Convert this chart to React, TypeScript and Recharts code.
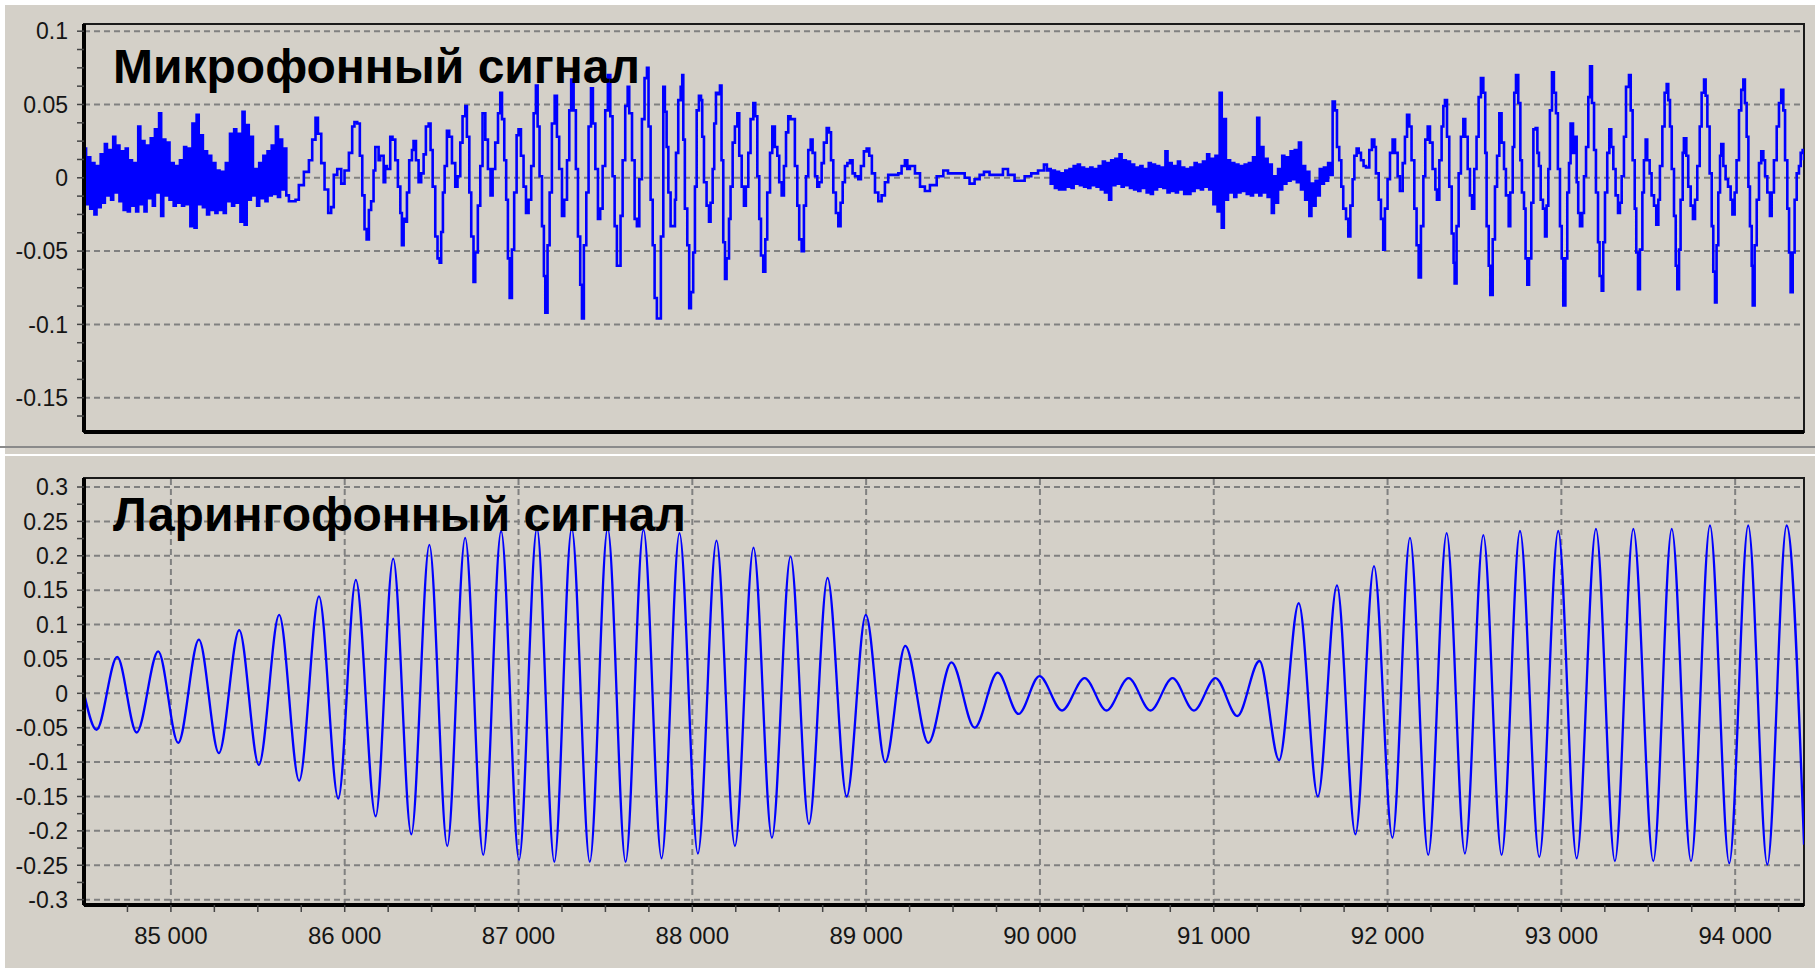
import React from 'react';
import { LineChart, Line, XAxis, YAxis, ReferenceLine, ReferenceArea } from 'recharts';

// ---------- axes ----------
const X_MIN = 84500;
const X_MAX = 94396;
const MIC_Y_DOMAIN: [number, number] = [-0.1734, 0.1049];
const LAR_Y_DOMAIN: [number, number] = [-0.3078, 0.3131];

const micYMajor = [0.1, 0.05, 0, -0.05, -0.1, -0.15];
const larYMajor = [0.3, 0.25, 0.2, 0.15, 0.1, 0.05, 0, -0.05, -0.1, -0.15, -0.2, -0.25, -0.3];
const xMajor = [85000, 86000, 87000, 88000, 89000, 90000, 91000, 92000, 93000, 94000];

const titleMic = 'Микрофонный сигнал';
const titleLar = 'Ларингофонный сигнал';

// ---------- microphone signal ----------
// noisy onset, sampled every 12 samples from 84500
const micNoiseStartT0 = 84500;
const micNoiseStep = 12;
const micNoiseStartValues = [
  0.020, -0.018, 0.014, -0.021, 0.010, -0.025, 0.008, -0.020, 0.016, -0.017,
  0.023, -0.012, 0.019, -0.015, 0.028, -0.010, 0.022, -0.016, 0.018, -0.022,
  0.020, -0.023, 0.012, -0.019, 0.010, -0.023, 0.035, -0.018, 0.025, -0.023,
  0.022, -0.014, 0.027, -0.019, 0.033, -0.010, 0.044, -0.026, 0.026, -0.012,
  0.024, -0.015, 0.010, -0.019, 0.008, -0.017, 0.012, -0.019, 0.021, -0.018,
  0.020, -0.033, 0.037, -0.034, 0.043, -0.018, 0.029, -0.020, 0.018, -0.025,
  0.015, -0.022, 0.010, -0.024, 0.005, -0.022, 0.004, -0.024, 0.010, -0.016,
  0.030, -0.019, 0.033, -0.017, 0.030, -0.030, 0.045, -0.032, 0.036, -0.015,
  0.028, -0.012, 0.006, -0.019, 0.010, -0.014, 0.015, -0.016, 0.018, -0.012,
  0.022, -0.011, 0.035, -0.013, 0.026, -0.008, 0.020, -0.012,
];

const micVoicedA: [number, number][] = [
  [85679, -0.016], [85717, -0.015], [85736, -0.005], [85765, 0.004], [85794, 0.012], [85813, 0.026], [85832, 0.041], [85846, 0.030], [85865, 0.010], [85884, -0.008], [85905, -0.024], [85922, -0.020], [85937, 0.002], [85957, 0.006], [85980, -0.004], [85999, 0.005], [86024, 0.017], [86043, 0.035], [86056, 0.038], [86072, 0.037], [86087, 0.015], [86101, -0.012], [86114, -0.035], [86126, -0.042], [86139, -0.022], [86152, -0.016],
  [86166, 0.005], [86176, 0.021], [86195, 0.012], [86204, 0.015], [86224, -0.003], [86233, 0.008], [86243, 0.006], [86262, 0.028], [86275, 0.026], [86291, 0.012], [86306, -0.006], [86320, -0.024], [86329, -0.046], [86339, -0.028], [86348, -0.030], [86358, -0.010], [86371, 0.012], [86387, 0.019], [86396, 0.025], [86410, 0.012], [86425, -0.003], [86440, 0.003], [86454, 0.016], [86467, 0.035], [86483, 0.037], [86494, 0.019], [86506, -0.006], [86521, -0.040], [86534, -0.055], [86546, -0.058], [86555, -0.037], [86565, -0.010], [86575, 0.008], [86588, 0.032], [86601, 0.028], [86617, 0.010], [86636, -0.006], [86649, 0.001], [86665, 0.024], [86678, 0.042], [86694, 0.049], [86703, 0.028], [86717, -0.010], [86728, -0.040], [86741, -0.071], [86751, -0.051], [86766, -0.019], [86780, 0.008], [86793, 0.044], [86809, 0.026], [86824, 0.006], [86839, -0.012], [86851, 0.006], [86866, 0.024], [86882, 0.044], [86895, 0.058], [86905, 0.040], [86918, 0.012], [86929, -0.015], [86939, -0.055], [86949, -0.082], [86962, -0.049], [86975, -0.010], [86989, 0.029], [87000, 0.033], [87014, 0.015], [87029, -0.006], [87043, -0.024], [87058, -0.015], [87073, 0.008], [87087, 0.044], [87100, 0.063], [87110, 0.035], [87121, 0.001], [87135, -0.033], [87146, -0.067], [87154, -0.092], [87167, -0.046], [87179, -0.010], [87192, 0.037], [87208, 0.056], [87221, 0.028], [87234, 0.006], [87250, -0.026], [87263, -0.015], [87279, 0.012], [87292, 0.046], [87303, 0.067], [87317, 0.046], [87330, 0.006], [87342, -0.040], [87355, -0.073], [87365, -0.096], [87376, -0.046], [87390, -0.010], [87403, 0.035], [87417, 0.061], [87428, 0.037], [87442, 0.006], [87457, -0.028], [87470, -0.021], [87484, 0.008], [87499, 0.046], [87514, 0.070], [87528, 0.042], [87541, 0.001], [87553, -0.033], [87566, -0.060], [87576, -0.060], [87587, -0.026], [87599, 0.012], [87614, 0.049], [87628, 0.062], [87637, 0.044], [87653, 0.012], [87668, -0.028], [87681, -0.033], [87695, -0.001], [87710, 0.040], [87725, 0.068], [87739, 0.075], [87748, 0.035], [87760, -0.015], [87772, -0.046], [87783, -0.082], [87796, -0.096],
  [87819, -0.040], [87833, 0.062], [87842, 0.045], [87852, 0.021], [87862, -0.010], [87875, -0.033], [87890, -0.033], [87900, -0.015], [87906, 0.017], [87919, 0.053], [87933, 0.062], [87942, 0.070], [87948, 0.026], [87957, -0.021], [87971, -0.046], [87982, -0.089], [87992, -0.078], [88005, -0.051], [88015, -0.006], [88025, 0.046], [88038, 0.056], [88050, 0.053], [88057, 0.028], [88067, -0.003], [88082, -0.019], [88096, -0.030], [88105, -0.017], [88117, 0.006], [88126, 0.037], [88136, 0.058], [88149, 0.057], [88159, 0.063], [88168, 0.012], [88178, -0.044], [88188, -0.069], [88197, -0.055], [88211, -0.028], [88220, -0.006], [88232, 0.024], [88245, 0.035], [88259, 0.044], [88270, 0.015], [88284, -0.006], [88297, -0.019], [88308, -0.006], [88322, 0.017], [88335, 0.040], [88351, 0.051], [88362, 0.042], [88374, 0.001], [88385, -0.028], [88395, -0.053], [88408, -0.064], [88420, -0.042], [88431, -0.010], [88447, 0.017], [88460, 0.035], [88475, 0.021], [88489, 0.015], [88500, -0.003], [88514, -0.012], [88527, 0.008], [88539, 0.031], [88552, 0.042], [88565, 0.040], [88581, 0.040], [88590, 0.008], [88604, -0.019], [88615, -0.042], [88629, -0.050], [88642, -0.019], [88654, 0.001], [88667, 0.019], [88681, 0.026], [88692, 0.017], [88706, 0.001], [88719, -0.006], [88730, -0.003], [88744, 0.010], [88757, 0.024], [88773, 0.034], [88786, 0.031], [88798, 0.012], [88811, -0.010], [88826, -0.024], [88840, -0.033], [88853, -0.017], [88865, -0.003], [88878, 0.008], [88892, 0.010], [88907, 0.012], [88922, 0.003], [88936, 0.001], [88955, -0.001], [88970, 0.008], [88987, 0.018], [89003, 0.020], [89018, 0.015], [89033, 0.003], [89051, -0.010], [89070, -0.016], [89089, -0.012], [89108, -0.003], [89127, 0.002], [89156, 0.002], [89185, 0.003], [89204, 0.008], [89223, 0.012], [89237, 0.006], [89252, 0.008], [89281, 0.003], [89310, -0.006], [89338, -0.009], [89367, -0.005], [89406, 0.001], [89444, 0.005],
];

const micQuiet: [number, number][] = [
  [89471, 0.003], [89547, 0.003], [89567, 0.000], [89595, -0.004], [89624, -0.001], [89653, 0.002], [89678, 0.004], [89710, 0.002], [89749, 0.002], [89787, 0.006], [89816, 0.002], [89854, -0.002], [89883, -0.002], [89912, 0.001], [89950, 0.003], [89989, 0.005], [90023, 0.009], [90040, 0.005],
];

// noisy pause, sampled every 12 samples from 90050
const micNoiseMidT0 = 90050;
const micNoiseMidValues = [
  0.006, -0.004, 0.005, -0.007, 0.004, -0.008, 0.003, -0.008, 0.005, -0.006,
  0.006, -0.007, 0.008, -0.004, 0.009, -0.005, 0.007, -0.006, 0.006, -0.007,
  0.007, -0.005, 0.006, -0.006, 0.008, -0.008, 0.011, -0.010, 0.010, -0.015,
  0.012, -0.005, 0.013, -0.004, 0.016, -0.006, 0.012, -0.005, 0.011, -0.007,
  0.009, -0.008, 0.007, -0.009, 0.008, -0.007, 0.006, -0.010, 0.010, -0.011,
  0.009, -0.008, 0.008, -0.006, 0.007, -0.007, 0.018, -0.010, 0.010, -0.009,
  0.008, -0.010, 0.011, -0.008, 0.007, -0.011, 0.006, -0.011, 0.007, -0.009,
  0.010, -0.007, 0.009, -0.008, 0.011, -0.006, 0.016, -0.008, 0.013, -0.018,
  0.015, -0.023, 0.058, -0.034, 0.040, -0.015, 0.012, -0.010, 0.010, -0.013,
  0.009, -0.010, 0.008, -0.009, 0.009, -0.011, 0.010, -0.012, 0.014, -0.010,
  0.041, -0.012, 0.021, -0.010, 0.013, -0.013, 0.009, -0.024, 0.001, -0.017,
  0.006, -0.008, 0.015, -0.004, 0.014, -0.002, 0.018, -0.001, 0.019, -0.003,
  0.024, -0.008, 0.008, -0.015, 0.004, -0.026, -0.004, -0.019, -0.002, -0.012,
  0.006, -0.004, 0.007, -0.002, 0.010, 0.002,
];

const micVoicedB: [number, number][] = [
  [91684, 0.052], [91697, 0.046], [91709, 0.021], [91722, 0.012], [91734, -0.006], [91745, -0.021], [91761, -0.028], [91774, -0.040], [91786, -0.019], [91799, -0.001], [91809, 0.015], [91822, 0.020], [91834, 0.017], [91847, 0.012], [91862, 0.008], [91876, 0.007], [91895, 0.019], [91910, 0.026], [91924, 0.021], [91933, 0.003], [91949, -0.015], [91962, -0.028], [91975, -0.049], [91985, -0.021], [92000, -0.001], [92014, 0.017], [92029, 0.026], [92043, 0.017], [92058, 0.001], [92071, -0.009], [92087, 0.010], [92100, 0.028], [92112, 0.043], [92125, 0.035], [92138, 0.012], [92154, -0.021], [92167, -0.046], [92179, -0.068], [92192, -0.033], [92206, 0.001], [92217, 0.026], [92231, 0.035], [92244, 0.024], [92259, 0.006], [92275, -0.008], [92284, -0.015], [92298, 0.012], [92311, 0.035], [92321, 0.049], [92330, 0.053], [92342, 0.028], [92355, -0.006], [92369, -0.038], [92380, -0.058], [92386, -0.072], [92397, -0.033], [92409, 0.003], [92422, 0.028], [92436, 0.040], [92447, 0.028], [92461, 0.006], [92474, -0.012], [92486, -0.021], [92499, 0.006], [92512, 0.028], [92524, 0.055], [92537, 0.068], [92551, 0.058], [92562, 0.017], [92570, -0.033], [92582, -0.060], [92591, -0.080], [92605, -0.042], [92618, -0.006], [92630, 0.015], [92643, 0.044], [92656, 0.024], [92670, 0.006], [92681, -0.012], [92697, -0.033], [92706, -0.010], [92720, 0.021], [92729, 0.058], [92739, 0.070], [92752, 0.051], [92764, 0.012], [92773, -0.010], [92785, -0.021],
  [92794, -0.055], [92804, -0.073], [92814, -0.055], [92827, -0.017], [92839, 0.033], [92852, 0.034], [92862, 0.017], [92871, 0.008], [92881, -0.015], [92894, -0.021], [92906, -0.040], [92915, -0.019], [92925, 0.006], [92934, 0.046], [92946, 0.072], [92957, 0.058], [92969, 0.044], [92980, 0.006], [92992, -0.033], [93002, -0.055], [93011, -0.087], [93023, -0.055], [93034, -0.010], [93044, 0.010], [93053, 0.037], [93067, 0.017], [93076, 0.028], [93088, -0.003], [93097, -0.024], [93107, -0.033], [93120, -0.024], [93130, 0.001], [93142, 0.021], [93155, 0.055], [93165, 0.076], [93176, 0.051], [93188, 0.019], [93199, -0.010], [93211, -0.044], [93220, -0.067], [93232, -0.077], [93241, -0.044], [93251, -0.010], [93264, 0.017], [93276, 0.033], [93287, 0.021], [93299, 0.006], [93312, -0.012], [93326, -0.024], [93337, -0.017], [93347, 0.001], [93360, 0.028], [93372, 0.062], [93389, 0.070], [93399, 0.046], [93410, 0.012], [93422, -0.021], [93431, -0.051], [93441, -0.076], [93452, -0.049], [93466, -0.010], [93475, 0.012], [93485, 0.026], [93494, 0.012], [93508, 0.003], [93519, -0.012], [93533, -0.019], [93546, -0.032], [93558, -0.015], [93567, 0.008], [93581, 0.035], [93594, 0.058], [93606, 0.064], [93615, 0.053], [93625, 0.035], [93635, 0.006], [93648, -0.026], [93658, -0.060], [93667, -0.076], [93677, -0.049], [93686, -0.015], [93698, 0.017], [93705, 0.027], [93719, 0.015], [93730, -0.006], [93744, -0.019], [93757, -0.028], [93769, -0.015], [93782, 0.008], [93796, 0.035], [93807, 0.058], [93821, 0.067], [93830, 0.056], [93840, 0.035], [93853, 0.003], [93865, -0.033], [93874, -0.064], [93884, -0.085], [93893, -0.046], [93903, -0.010], [93913, 0.015], [93920, 0.023], [93932, 0.008], [93945, -0.001], [93959, -0.006], [93974, -0.015], [93984, -0.025], [93997, -0.010], [94008, 0.012], [94022, 0.046], [94035, 0.060], [94047, 0.067], [94056, 0.051], [94066, 0.028], [94076, -0.006], [94085, -0.033], [94095, -0.060], [94101, -0.087], [94112, -0.046], [94124, -0.015], [94137, 0.010], [94150, 0.018], [94162, 0.012], [94172, 0.001], [94185, -0.010], [94200, -0.026], [94210, -0.010], [94223, 0.012], [94239, 0.035], [94252, 0.051], [94265, 0.060], [94277, 0.046], [94287, 0.012], [94300, -0.021], [94310, -0.051], [94319, -0.078], [94331, -0.051], [94342, -0.015], [94354, 0.003], [94367, 0.008], [94377, 0.017], [94388, 0.019], [94396, 0.012],
];

// ---------- laryngophone signal: successive extremes ----------
const larExtremes: [number, number][] = [
  [84500, 0.000], [84572, -0.053], [84691, 0.053], [84803, -0.057], [84927, 0.061], [85042, -0.072], [85161, 0.078], [85276, -0.087], [85393, 0.092], [85506, -0.104], [85623, 0.114], [85738, -0.127], [85852, 0.141], [85963, -0.153], [86064, 0.165], [86178, -0.179], [86279, 0.196],
  [86383, -0.205], [86487, 0.216], [86590, -0.222], [86693, 0.226], [86797, -0.235], [86900, 0.236], [87003, -0.242], [87106, 0.240], [87206, -0.245], [87306, 0.240], [87410, -0.245], [87513, 0.240], [87616, -0.245], [87719, 0.238], [87823, -0.240], [87926, 0.233], [88032, -0.233], [88139, 0.222], [88245, -0.222], [88352, 0.212], [88458, -0.210], [88565, 0.199], [88671, -0.190], [88778, 0.168], [88888, -0.150], [88998, 0.114], [89110, -0.100], [89225, 0.069], [89358, -0.072], [89491, 0.045], [89624, -0.050], [89757, 0.030], [89877, -0.030], [89997, 0.025], [90127, -0.025], [90257, 0.022], [90383, -0.025], [90510, 0.022], [90636, -0.025], [90763, 0.022], [90886, -0.025], [91010, 0.022], [91136, -0.033], [91263, 0.047], [91376, -0.097], [91489, 0.131], [91599, -0.150], [91709, 0.157], [91815, -0.205], [91922, 0.185], [92028, -0.210],
  [92129, 0.226], [92234, -0.235], [92340, 0.233], [92445, -0.233], [92551, 0.230], [92656, -0.235], [92762, 0.236], [92873, -0.238], [92982, 0.236], [93088, -0.240], [93199, 0.239], [93308, -0.244], [93414, 0.239], [93529, -0.244], [93635, 0.239], [93746, -0.244], [93855, 0.244], [93966, -0.247], [94075, 0.244], [94185, -0.249], [94296, 0.244], [94396, -0.220],
];

// ---------- build tables ----------
const micData = [
  ...micNoiseStartValues.map((v, i) => ({ t: micNoiseStartT0 + i * micNoiseStep, v })),
  ...micVoicedA.map(([t, v]) => ({ t, v })),
  ...micQuiet.map(([t, v]) => ({ t, v })),
  ...micNoiseMidValues.map((v, i) => ({ t: micNoiseMidT0 + i * micNoiseStep, v })),
  ...micVoicedB.map(([t, v]) => ({ t, v })),
].sort((a, b) => a.t - b.t);

const larData = larExtremes.map(([t, v]) => ({ t, v }));

const range = (from: number, to: number, step: number) => {
  const out: number[] = [];
  const n = Math.round((to - from) / step);
  for (let k = 0; k <= n; k++) out.push(Math.round((from + k * step) * 1e6) / 1e6);
  return out;
};
const micYTicks = range(-0.1625, 0.1, 0.0125);
const larYTicks = range(-0.3, 0.3, 0.025);
const xTicks = range(84750, 94250, 250);

// ---------- styling ----------
const BG = '#D4D0C8';
const BLUE = '#0000FF';
const GRID = '#808080';
const FONT = '"Liberation Sans", Arial, sans-serif';

const isMultiple = (v: number, step: number) => Math.abs(v / step - Math.round(v / step)) < 1e-6;
const fmtY = (v: number) => String(Math.round(v * 1000) / 1000);
const fmtX = (v: number) => `${Math.round(v / 1000)} 000`;

const YTick = (props: any) => {
  const { x, y, payload } = props;
  const v = payload.value as number;
  if (!isMultiple(v, 0.05)) return <g />;
  return (
    <text x={x} y={y} dy="0.36em" textAnchor="end" fontFamily={FONT} fontSize={23} fill="#151515">
      {fmtY(v)}
    </text>
  );
};

const XTick = (props: any) => {
  const { x, y, payload } = props;
  const v = payload.value as number;
  if (!isMultiple(v, 1000)) return <g />;
  return (
    <text x={x} y={y + 32} textAnchor="middle" fontFamily={FONT} fontSize={24} fill="#151515">
      {fmtX(v)}
    </text>
  );
};

export default function App() {
  return (
    <div style={{ position: 'absolute', left: 0, top: 0, width: 1815, height: 968, background: BG, overflow: 'hidden' }}>
      {/* microphone panel */}
      <div style={{ position: 'absolute', left: 0, top: 0 }}>
        <LineChart width={1815} height={450} data={micData} margin={{ top: 24, right: 11, bottom: 0, left: 0 }}>
          <XAxis
            dataKey="t"
            type="number"
            domain={[X_MIN, X_MAX]}
            allowDataOverflow
            tick={false}
            tickLine={false}
            height={18}
            axisLine={{ stroke: '#000', strokeWidth: 4 }}
          />
          <YAxis
            type="number"
            domain={MIC_Y_DOMAIN}
            allowDataOverflow
            ticks={micYTicks}
            interval={0}
            width={84}
            tickSize={7}
            tickMargin={9}
            tick={<YTick />}
            tickLine={{ stroke: '#444', strokeWidth: 1.5 }}
            axisLine={{ stroke: '#000', strokeWidth: 4 }}
          />
          {micYMajor.map((v) => (
            <ReferenceLine key={`mg${v}`} y={v} stroke={GRID} strokeWidth={2} strokeDasharray="6 4" />
          ))}
          <Line type="stepAfter" dataKey="v" stroke={BLUE} strokeWidth={2.6} dot={false} isAnimationActive={false} />
          <ReferenceArea x1={X_MIN} x2={X_MAX} y1={MIC_Y_DOMAIN[0]} y2={MIC_Y_DOMAIN[1]} fill="none" stroke="#1a1a1a" strokeWidth={2} />
        </LineChart>
      </div>

      {/* laryngophone panel */}
      <div style={{ position: 'absolute', left: 0, top: 440 }}>
        <LineChart width={1815} height={528} data={larData} margin={{ top: 38, right: 11, bottom: 0, left: 0 }}>
          <XAxis
            dataKey="t"
            type="number"
            domain={[X_MIN, X_MAX]}
            allowDataOverflow
            ticks={xTicks}
            interval={0}
            height={63}
            tickSize={7}
            tickMargin={0}
            tick={<XTick />}
            tickLine={{ stroke: '#444', strokeWidth: 1.5 }}
            axisLine={{ stroke: '#000', strokeWidth: 4 }}
          />
          <YAxis
            type="number"
            domain={LAR_Y_DOMAIN}
            allowDataOverflow
            ticks={larYTicks}
            interval={0}
            width={84}
            tickSize={7}
            tickMargin={9}
            tick={<YTick />}
            tickLine={{ stroke: '#444', strokeWidth: 1.5 }}
            axisLine={{ stroke: '#000', strokeWidth: 4 }}
          />
          {larYMajor.map((v) => (
            <ReferenceLine key={`lg${v}`} y={v} stroke={GRID} strokeWidth={2} strokeDasharray="6 4" />
          ))}
          {xMajor.map((v) => (
            <ReferenceLine key={`lx${v}`} x={v} stroke={GRID} strokeWidth={2} strokeDasharray="6 4" />
          ))}
          <Line type="monotone" dataKey="v" stroke={BLUE} strokeWidth={2.3} dot={false} isAnimationActive={false} />
          <ReferenceArea x1={X_MIN} x2={X_MAX} y1={LAR_Y_DOMAIN[0]} y2={LAR_Y_DOMAIN[1]} fill="none" stroke="#1a1a1a" strokeWidth={2} />
        </LineChart>
      </div>

      {/* window chrome and titles */}
      <svg width={1815} height={968} style={{ position: 'absolute', left: 0, top: 0, pointerEvents: 'none' }}>
        <rect x={0} y={0} width={1815} height={5} fill="#FFFFFF" />
        <rect x={0} y={0} width={5} height={968} fill="#FFFFFF" />
        <rect x={0} y={446} width={1815} height={2} fill="#8A8A8A" />
        <rect x={0} y={454} width={1815} height={2} fill="#FFFFFF" />
        <text x={113} y={83} fontFamily={FONT} fontWeight="bold" fontSize={48} fill="#000">{titleMic}</text>
        <text x={113} y={531} fontFamily={FONT} fontWeight="bold" fontSize={48} fill="#000">{titleLar}</text>
      </svg>
    </div>
  );
}
